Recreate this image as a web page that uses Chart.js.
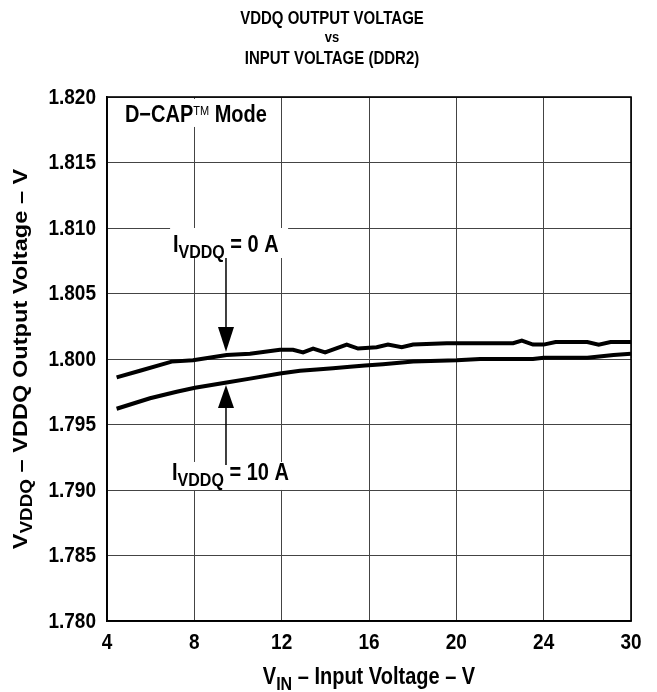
<!DOCTYPE html>
<html><head><meta charset="utf-8">
<script src="https://cdn.jsdelivr.net/npm/chart.js@4.4.1/dist/chart.umd.min.js"></script>
<style>html,body{margin:0;padding:0;background:#fff;}canvas{display:block;}</style>
</head><body>
<canvas id="c" width="657" height="692"></canvas>
<script>
// ---- data (VIN in volts, VDDQ in volts) ----
const vinUpper = [4.44,5.51,6.96,7.94,9.48,10.55,11.92,12.52,12.98,13.44,13.99,14.98,15.50,16.35,16.87,17.50,18.02,19.56,22.60,23.00,23.51,24.0,24.82,27.0,27.78,28.6,30.0];
const vddqUpper = [1.7986,1.7991,1.7998,1.7999,1.8003,1.8004,1.8007,1.8007,1.8005,1.8008,1.8005,1.8011,1.8008,1.8009,1.8011,1.8009,1.8011,1.8012,1.8012,1.8014,1.8011,1.8011,1.8013,1.8013,1.8011,1.8013,1.8013];
const vinLower = [4.44,5.97,7.19,8.03,9.48,10.55,11.92,12.84,13.61,14.35,15.13,15.82,16.64,18.02,20.02,21.09,23.51,24.0,27.0,28.8,30.0];
const vddqLower = [1.7962,1.7970,1.7975,1.7978,1.7982,1.7985,1.7989,1.7991,1.7992,1.7993,1.7994,1.7995,1.7996,1.7998,1.7999,1.8000,1.8000,1.8001,1.8001,1.8003,1.8004];
const xTickLabels = ['4','8','12','16','20','24','30'];
const yMin = 1.780, yMax = 1.820, yStep = 0.005;
const titleLines = ['VDDQ OUTPUT VOLTAGE','vs','INPUT VOLTAGE (DDR2)'];

// x axis has six equal divisions; the last one spans 24..30 V
function xPos(v){ return v <= 24 ? v : 24 + (v - 24) * 4 / 6; }
function pts(xs, ys){ return xs.map((x,i)=>({x:xPos(x), y:ys[i]})); }

const FONT = '"Liberation Sans", Arial, sans-serif';
const SY = 1.18; // text in the reference is drawn taller than wide
function drawRich(ctx, parts, x, y, align, sx, sy){
  ctx.save();
  ctx.translate(x, y); ctx.scale(sx||1, sy||1);
  let w = 0;
  parts.forEach(p=>{ ctx.font = p.font; p.w = ctx.measureText(p.t).width; w += p.w; });
  let cx = align === 'center' ? -w/2 : (align === 'right' ? -w : 0);
  ctx.textBaseline = 'alphabetic'; ctx.textAlign = 'left';
  parts.forEach(p=>{ ctx.font = p.font; ctx.fillText(p.t, cx, (p.dy||0)); cx += p.w; });
  ctx.restore();
  return w;
}
const B = (n)=>'bold ' + n + 'px ' + FONT;

const deco = {
  id:'deco',
  beforeDatasetsDraw(chart){
    const {ctx, chartArea:a, scales:{x,y}} = chart;
    ctx.save();
    // white boxes behind in-plot labels
    ctx.fillStyle = '#fff';
    ctx.fillRect(x.getPixelForValue(4.50), y.getPixelForValue(1.81985), 158, 28);
    ctx.fillRect(x.getPixelForValue(6.89), y.getPixelForValue(1.8100), 118, 30);
    ctx.fillRect(x.getPixelForValue(6.89), y.getPixelForValue(1.79214), 126, 28);
    // frame
    ctx.strokeStyle = '#000'; ctx.lineWidth = 1.6;
    ctx.strokeRect(a.left, a.top, a.right - a.left, a.bottom - a.top);
    ctx.restore();
  },
  afterDatasetsDraw(chart){
    const {ctx, chartArea:a, scales:{x,y}} = chart;
    ctx.save();
    ctx.fillStyle = '#000'; ctx.strokeStyle = '#000';
    // tick labels
    y.ticks.forEach(t=>{
      drawRich(ctx, [{t:t.value.toFixed(3), font:B(19)}], 96, y.getPixelForValue(t.value) + 6.5, 'right', 1, SY);
    });
    x.ticks.forEach(t=>{
      const i = Math.round((t.value - 4) / 4);
      drawRich(ctx, [{t:xTickLabels[i], font:B(19)}], x.getPixelForValue(t.value), 649, 'center', 1, SY);
    });
    // in-plot labels
    drawRich(ctx, [{t:'D\u2212CAP', font:B(20)},{t:'TM', font:'11px ' + FONT, dy:-6},{t:' Mode', font:B(20)}],
      x.getPixelForValue(4.82), y.getPixelForValue(1.81812), 'left', 1, SY);
    drawRich(ctx, [{t:'I', font:B(20)},{t:'VDDQ', font:B(16), dy:5},{t:' = 0 A', font:B(20)}],
      x.getPixelForValue(7.02), y.getPixelForValue(1.80817), 'left', 1, SY);
    drawRich(ctx, [{t:'I', font:B(20)},{t:'VDDQ', font:B(16), dy:5},{t:' = 10 A', font:B(20)}],
      x.getPixelForValue(6.98), y.getPixelForValue(1.79076), 'left', 1, SY);
    // arrows
    const ax = x.getPixelForValue(9.45);
    ctx.lineWidth = 1.5;
    ctx.beginPath(); ctx.moveTo(ax, y.getPixelForValue(1.80771)); ctx.lineTo(ax, y.getPixelForValue(1.80244)); ctx.stroke();
    ctx.beginPath(); ctx.moveTo(ax-8, y.getPixelForValue(1.80244)); ctx.lineTo(ax+8, y.getPixelForValue(1.80244)); ctx.lineTo(ax, y.getPixelForValue(1.80056)); ctx.closePath(); ctx.fill();
    ctx.beginPath(); ctx.moveTo(ax, y.getPixelForValue(1.79191)); ctx.lineTo(ax, y.getPixelForValue(1.79626)); ctx.stroke();
    ctx.beginPath(); ctx.moveTo(ax-8, y.getPixelForValue(1.79626)); ctx.lineTo(ax+8, y.getPixelForValue(1.79626)); ctx.lineTo(ax, y.getPixelForValue(1.79802)); ctx.closePath(); ctx.fill();
    // title
    drawRich(ctx, [{t:titleLines[0], font:B(15)}], 332, 24, 'center', 1, SY);
    drawRich(ctx, [{t:titleLines[1], font:B(13)}], 332, 42, 'center', 1, SY);
    drawRich(ctx, [{t:titleLines[2], font:B(15)}], 332, 64, 'center', 1, SY);
    // x axis title
    drawRich(ctx, [{t:'V', font:B(20)},{t:'IN', font:B(16), dy:5},{t:' \u2013 Input Voltage \u2013 V', font:B(20)}],
      (a.left + a.right)/2, 684, 'center', 1, SY);
    // y axis title (rotated; the stretch runs along the text)
    ctx.save();
    ctx.translate(27, (a.top + a.bottom)/2);
    ctx.rotate(-Math.PI/2);
    drawRich(ctx, [{t:'V', font:B(20)},{t:'VDDQ', font:B(16), dy:5},{t:' \u2013 VDDQ Output Voltage \u2013 V', font:B(20)}],
      0, 0, 'center', SY, 1);
    ctx.restore();
    ctx.restore();
  }
};

new Chart(document.getElementById('c'), {
  type:'line',
  data:{ datasets:[
    {label:'IVDDQ = 0 A', data:pts(vinUpper, vddqUpper), borderColor:'#000', borderWidth:4, pointRadius:0, tension:0, fill:false},
    {label:'IVDDQ = 10 A', data:pts(vinLower, vddqLower), borderColor:'#000', borderWidth:4, pointRadius:0, tension:0, fill:false}
  ]},
  options:{
    responsive:false, animation:false, devicePixelRatio:1,
    layout:{padding:{top:97, right:26, left:0, bottom:0}},
    plugins:{legend:{display:false}, tooltip:{enabled:false}, title:{display:false}},
    scales:{
      x:{type:'linear', min:4, max:28,
        ticks:{stepSize:4, display:false},
        grid:{color:'#444', lineWidth:1, drawTicks:false},
        border:{color:'#000', width:1.6},
        afterFit:(s)=>{ s.height = 692 - 621; }
      },
      y:{type:'linear', min:yMin, max:yMax,
        ticks:{stepSize:yStep, display:false},
        grid:{color:'#444', lineWidth:1, drawTicks:false},
        border:{color:'#000', width:1.6},
        afterFit:(s)=>{ s.width = 107; }
      }
    }
  },
  plugins:[deco]
});
</script>
</body></html>
